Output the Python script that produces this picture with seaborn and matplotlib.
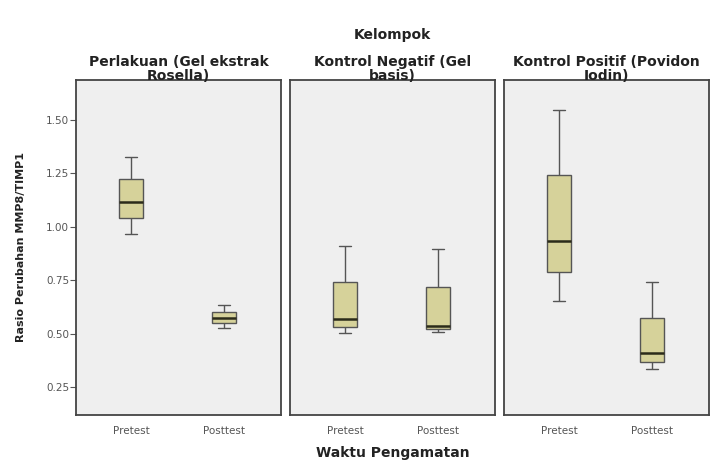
import numpy as np
import pandas as pd
import matplotlib
matplotlib.use("Agg")
import matplotlib.pyplot as plt
import seaborn as sns

# ---- data (five-number summaries) ----
groups = ["Perlakuan (Gel ekstrak\nRosella)",
          "Kontrol Negatif (Gel\nbasis)",
          "Kontrol Positif (Povidon\nIodin)"]
times = ["Pretest", "Posttest"]
# [min, Q1, median, Q3, max]
perlakuan_pre = [0.967, 1.042, 1.117, 1.223, 1.328]
perlakuan_post = [0.529, 0.550, 0.573, 0.604, 0.635]
negatif_pre = [0.503, 0.534, 0.570, 0.744, 0.912]
negatif_post = [0.509, 0.523, 0.538, 0.718, 0.895]
positif_pre = [0.654, 0.791, 0.934, 1.241, 1.547]
positif_post = [0.334, 0.367, 0.409, 0.574, 0.741]
yticks = [0.25, 0.50, 0.75, 1.00, 1.25, 1.50]

series = {
    (groups[0], "Pretest"): perlakuan_pre,
    (groups[0], "Posttest"): perlakuan_post,
    (groups[1], "Pretest"): negatif_pre,
    (groups[1], "Posttest"): negatif_post,
    (groups[2], "Pretest"): positif_pre,
    (groups[2], "Posttest"): positif_post,
}
rows = []
for (g, t), vals in series.items():
    for v in vals:
        rows.append({"Kelompok": g, "Waktu": t, "Rasio": v})
df = pd.DataFrame(rows)

sns.set_style("white")
plt.rcParams["font.family"] = ["DejaVu Sans"]

W, H = 710, 461
fig = plt.figure(figsize=(W / 100, H / 100), dpi=100)

panel_x = [(76, 281), (290, 495), (504, 709)]
top_px, bot_px = 80, 415
box_color = "#D6D29A"
edge = "#555555"
bg = "#EFEFEF"

axes = []
for i, (g, (x0, x1)) in enumerate(zip(groups, panel_x)):
    ax = fig.add_axes([x0 / W, 1 - bot_px / H, (x1 - x0) / W, (bot_px - top_px) / H])
    axes.append(ax)
    sub = df[df["Kelompok"] == g]
    sns.boxplot(data=sub, x="Waktu", y="Rasio", order=times, ax=ax,
                color=box_color, width=0.26, whis=(0, 100), saturation=1,
                linewidth=1.0, linecolor=edge,
                medianprops={"color": "#2b2b1a", "linewidth": 1.8},
                boxprops={"facecolor": box_color, "edgecolor": edge})
    ax.set_facecolor(bg)
    ax.set_xlim(-0.6, 1.62)
    ax.set_ylim(0.121, 1.687)
    ax.set_xlabel("")
    ax.set_ylabel("")
    for s in ax.spines.values():
        s.set_color("#444444")
        s.set_linewidth(1.3)
    ax.tick_params(axis="x", length=4, width=0.8, color="#555555",
                   labelsize=7.5, labelcolor="#555555", pad=4)
    if i == 0:
        ax.set_yticks(yticks)
        ax.set_yticklabels([f"{v:.2f}" for v in yticks])
        ax.tick_params(axis="y", left=True, length=4, width=0.8, color="#555555",
                       labelsize=7.5, labelcolor="#555555", pad=1)
    else:
        ax.set_yticks([])
    ax.set_title(g, fontsize=10, fontweight="bold", pad=0, linespacing=1.02,
                 color="#222222")

fig.text(392.5 / W, 1 - 35 / H, "Kelompok", ha="center", va="center",
         fontsize=10, fontweight="bold", color="#222222")
fig.text(392.5 / W, 1 - 453 / H, "Waktu Pengamatan", ha="center", va="center",
         fontsize=10, fontweight="bold", color="#222222")
fig.text(21 / W, 1 - 247 / H, "Rasio Perubahan MMP8/TIMP1", ha="center",
         va="center", rotation=90, fontsize=8, fontweight="bold",
         color="#222222")

fig.savefig("out.png", dpi=100)
